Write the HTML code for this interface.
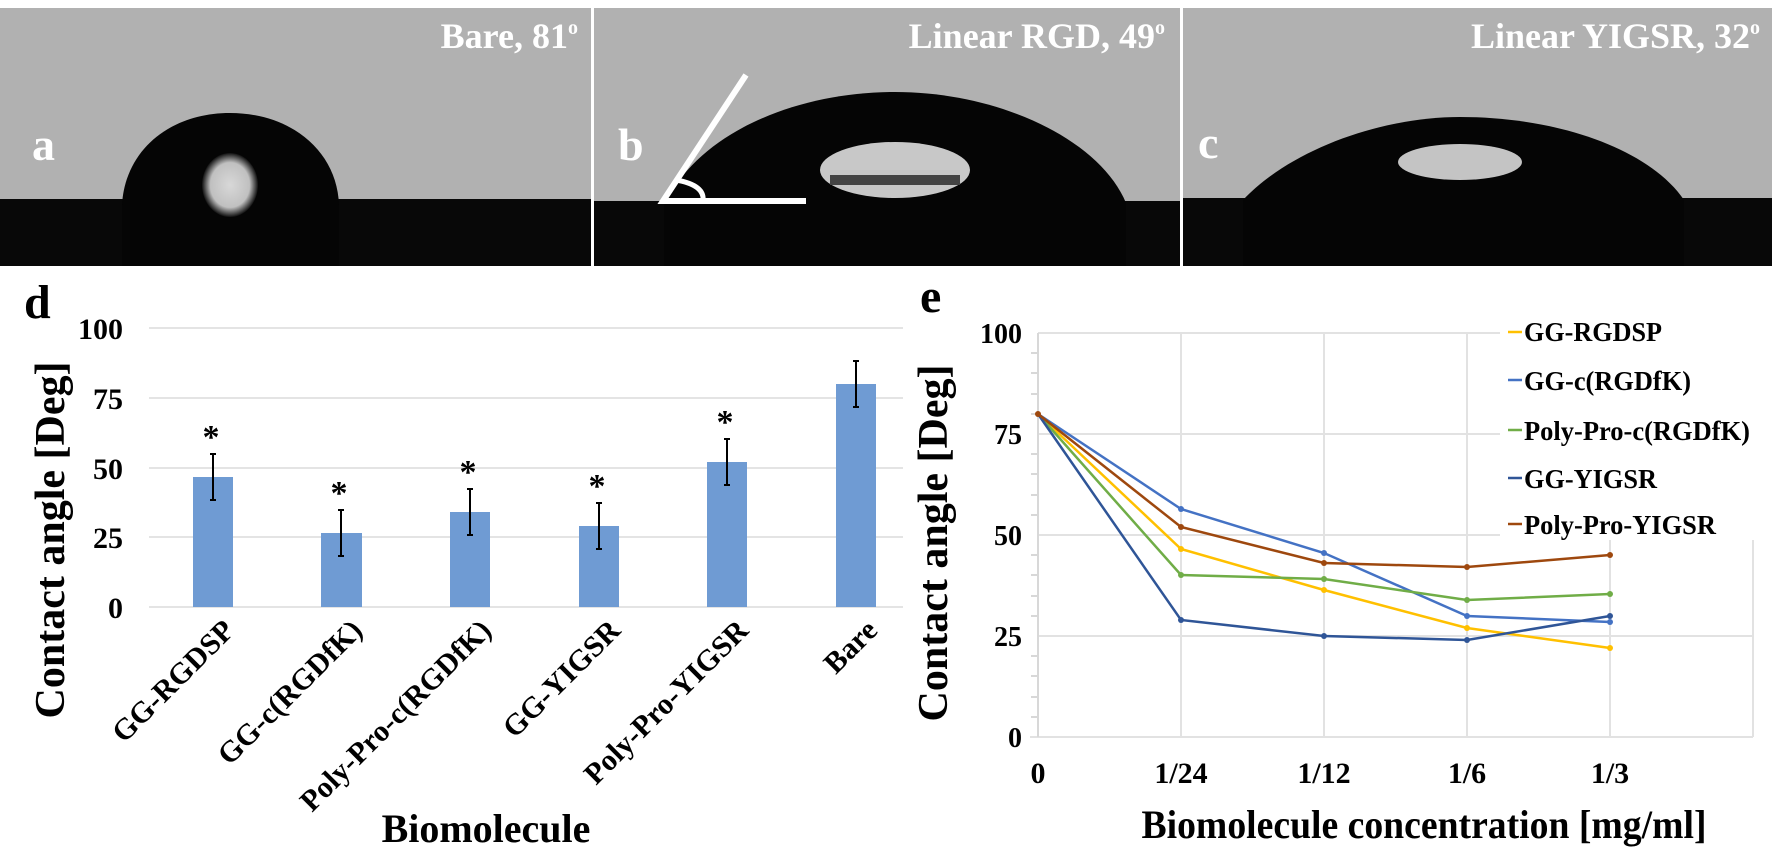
<!DOCTYPE html>
<html><head><meta charset="utf-8"><style>
html,body{margin:0;padding:0;background:#fff;width:1772px;height:850px;overflow:hidden}
svg{display:block}
text{font-family:"Liberation Serif",serif;font-weight:bold}
</style></head><body>
<svg width="1772" height="850" viewBox="0 0 1772 850" xmlns="http://www.w3.org/2000/svg">
<defs>
<radialGradient id="spot" cx="50%" cy="50%" r="50%"><stop offset="0" stop-color="#d8d8d8"/><stop offset="0.7" stop-color="#c0c0c0"/><stop offset="1" stop-color="#111"/></radialGradient>
</defs>
<rect x="0" y="0" width="1772" height="266" fill="#fff"/>
<g>
<rect x="0" y="8" width="591" height="258" fill="#b1b1b1"/>
<rect x="0" y="199" width="591" height="67" fill="#080808"/>
<path d="M122,266 L122,205 C125,150 170,113 230,113 C290,113 337,150 339,205 L339,266 Z" fill="#050505"/>
<ellipse cx="230" cy="185" rx="28" ry="32" fill="url(#spot)"/>
<text x="32" y="160" fill="#fff" font-size="46">a</text>
<text x="578" y="48" fill="#fff" font-size="36" text-anchor="end">Bare, 81<tspan font-size="20" dy="-14">o</tspan></text>
</g>
<g>
<rect x="594" y="8" width="586" height="258" fill="#b1b1b1"/>
<rect x="594" y="201" width="586" height="65" fill="#080808"/>
<path d="M664,266 L664,205 C700,130 800,92 895,92 C1000,92 1100,140 1126,203 L1126,266 Z" fill="#050505"/>
<ellipse cx="895" cy="170" rx="75" ry="28" fill="#c8c8c8"/>
<rect x="830" y="175" width="130" height="10" fill="#444"/>
<path d="M746,75 L663,201 L806,201" fill="none" stroke="#fff" stroke-width="6"/>
<path d="M676,180 Q705,185 703,201" fill="none" stroke="#fff" stroke-width="5"/>
<text x="618" y="160" fill="#fff" font-size="46">b</text>
<text x="1165" y="48" fill="#fff" font-size="36" text-anchor="end">Linear RGD, 49<tspan font-size="20" dy="-14">o</tspan></text>
</g>
<g>
<rect x="1183" y="8" width="589" height="258" fill="#b1b1b1"/>
<rect x="1183" y="198" width="589" height="68" fill="#080808"/>
<path d="M1243,266 L1243,200 C1290,150 1380,117 1460,117 C1560,117 1650,150 1684,200 L1684,266 Z" fill="#050505"/>
<ellipse cx="1460" cy="162" rx="62" ry="18" fill="#c4c4c4"/>
<text x="1198" y="158" fill="#fff" font-size="46">c</text>
<text x="1760" y="48" fill="#fff" font-size="36" text-anchor="end">Linear YIGSR, 32<tspan font-size="20" dy="-14">o</tspan></text>
</g>

<text x="24" y="318" font-size="48">d</text>
<g stroke="#e4e4e4" stroke-width="2">
<line x1="149" y1="328" x2="903" y2="328"/><line x1="149" y1="398" x2="903" y2="398"/>
<line x1="149" y1="468" x2="903" y2="468"/><line x1="149" y1="537" x2="903" y2="537"/>
<line x1="149" y1="607" x2="903" y2="607"/>
</g>
<g font-size="30" text-anchor="end">
<text x="123" y="339">100</text><text x="123" y="409">75</text><text x="123" y="479">50</text><text x="123" y="548">25</text><text x="123" y="618">0</text>
</g>
<g fill="#6f9bd3">
<rect x="193" y="477" width="40" height="130"/><rect x="321" y="533" width="41" height="74"/>
<rect x="450" y="512" width="40" height="95"/><rect x="579" y="526" width="40" height="81"/>
<rect x="707" y="462" width="40" height="145"/><rect x="836" y="384" width="40" height="223"/>
</g>
<g stroke="#000" stroke-width="2">
<line x1="213" y1="454" x2="213" y2="500"/><line x1="210" y1="454" x2="216" y2="454"/><line x1="210" y1="500" x2="216" y2="500"/>
<line x1="341" y1="510" x2="341" y2="556"/><line x1="338" y1="510" x2="344" y2="510"/><line x1="338" y1="556" x2="344" y2="556"/>
<line x1="470" y1="489" x2="470" y2="535"/><line x1="467" y1="489" x2="473" y2="489"/><line x1="467" y1="535" x2="473" y2="535"/>
<line x1="599" y1="503" x2="599" y2="549"/><line x1="596" y1="503" x2="602" y2="503"/><line x1="596" y1="549" x2="602" y2="549"/>
<line x1="727" y1="439" x2="727" y2="485"/><line x1="724" y1="439" x2="730" y2="439"/><line x1="724" y1="485" x2="730" y2="485"/>
<line x1="856" y1="361" x2="856" y2="407"/><line x1="853" y1="361" x2="859" y2="361"/><line x1="853" y1="407" x2="859" y2="407"/>
</g>
<g font-size="34" text-anchor="middle" font-weight="normal" style="font-family:'Liberation Sans',sans-serif">
<text x="211" y="448">*</text><text x="339" y="504">*</text><text x="468" y="483">*</text><text x="597" y="497">*</text><text x="725" y="433">*</text>
</g>
<g font-size="30" text-anchor="end">
<text transform="translate(236,632) rotate(-45)">GG-RGDSP</text>
<text transform="translate(364,632) rotate(-45)">GG-c(RGDfK)</text>
<text transform="translate(493,632) rotate(-45)">Poly-Pro-c(RGDfK)</text>
<text transform="translate(622,632) rotate(-45)">GG-YIGSR</text>
<text transform="translate(750,632) rotate(-45)">Poly-Pro-YIGSR</text>
<text transform="translate(879,632) rotate(-45)">Bare</text>
</g>
<text x="486" y="842" font-size="40" text-anchor="middle">Biomolecule</text>
<text transform="translate(64,540) rotate(-90)" font-size="42" text-anchor="middle">Contact angle [Deg]</text>

<text x="920" y="312" font-size="48">e</text>
<g stroke="#e2e2e2" stroke-width="2">
<line x1="1038" y1="333" x2="1500" y2="333"/><line x1="1038" y1="434" x2="1500" y2="434"/>
<line x1="1038" y1="535" x2="1500" y2="535"/><line x1="1038" y1="636" x2="1753" y2="636"/>
<line x1="1030" y1="737" x2="1753" y2="737"/>
<line x1="1181" y1="333" x2="1181" y2="737"/><line x1="1324" y1="333" x2="1324" y2="737"/>
<line x1="1467" y1="333" x2="1467" y2="737"/><line x1="1610" y1="540" x2="1610" y2="737"/>
<line x1="1753" y1="540" x2="1753" y2="737"/>
<line x1="1038" y1="333" x2="1038" y2="737" stroke="#d8d8d8"/>
</g>
<g stroke="#d8d8d8" stroke-width="2">
<line x1="1031" y1="353" x2="1038" y2="353"/><line x1="1031" y1="373" x2="1038" y2="373"/><line x1="1031" y1="394" x2="1038" y2="394"/><line x1="1031" y1="414" x2="1038" y2="414"/>
<line x1="1031" y1="454" x2="1038" y2="454"/><line x1="1031" y1="474" x2="1038" y2="474"/><line x1="1031" y1="495" x2="1038" y2="495"/><line x1="1031" y1="515" x2="1038" y2="515"/>
<line x1="1031" y1="555" x2="1038" y2="555"/><line x1="1031" y1="575" x2="1038" y2="575"/><line x1="1031" y1="596" x2="1038" y2="596"/><line x1="1031" y1="616" x2="1038" y2="616"/>
<line x1="1031" y1="656" x2="1038" y2="656"/><line x1="1031" y1="676" x2="1038" y2="676"/><line x1="1031" y1="697" x2="1038" y2="697"/><line x1="1031" y1="717" x2="1038" y2="717"/>
</g>
<g font-size="28" text-anchor="end">
<text x="1022" y="343">100</text><text x="1022" y="444">75</text><text x="1022" y="545">50</text><text x="1022" y="646">25</text><text x="1022" y="747">0</text>
</g>
<g font-size="30" text-anchor="middle">
<text x="1038" y="783">0</text><text x="1181" y="783">1/24</text><text x="1324" y="783">1/12</text><text x="1467" y="783">1/6</text><text x="1610" y="783">1/3</text>
</g>
<text x="1424" y="838" font-size="40" text-anchor="middle" textLength="565" lengthAdjust="spacingAndGlyphs">Biomolecule concentration [mg/ml]</text>
<text transform="translate(947,543) rotate(-90)" font-size="42" text-anchor="middle">Contact angle [Deg]</text>
<g fill="none" stroke-width="2.5">
<polyline stroke="#ffc000" points="1038,414 1181,549 1324,590 1467,628 1610,648"/>
<polyline stroke="#4472c4" points="1038,414 1181,509 1324,553 1467,616 1610,622"/>
<polyline stroke="#70ad47" points="1038,414 1181,575 1324,579 1467,600 1610,594"/>
<polyline stroke="#2f5597" points="1038,414 1181,620 1324,636 1467,640 1610,616"/>
<polyline stroke="#9e480e" points="1038,414 1181,527 1324,563 1467,567 1610,555"/>
</g>
<g>
<g fill="#ffc000"><circle cx="1181" cy="549" r="3"/><circle cx="1324" cy="590" r="3"/><circle cx="1467" cy="628" r="3"/><circle cx="1610" cy="648" r="3"/></g>
<g fill="#4472c4"><circle cx="1181" cy="509" r="3"/><circle cx="1324" cy="553" r="3"/><circle cx="1467" cy="616" r="3"/><circle cx="1610" cy="622" r="3"/></g>
<g fill="#70ad47"><circle cx="1181" cy="575" r="3"/><circle cx="1324" cy="579" r="3"/><circle cx="1467" cy="600" r="3"/><circle cx="1610" cy="594" r="3"/></g>
<g fill="#2f5597"><circle cx="1181" cy="620" r="3"/><circle cx="1324" cy="636" r="3"/><circle cx="1467" cy="640" r="3"/><circle cx="1610" cy="616" r="3"/></g>
<g fill="#9e480e"><circle cx="1038" cy="414" r="3"/><circle cx="1181" cy="527" r="3"/><circle cx="1324" cy="563" r="3"/><circle cx="1467" cy="567" r="3"/><circle cx="1610" cy="555" r="3"/></g>
</g>
<g stroke-width="2.5">
<line x1="1508" y1="332" x2="1522" y2="332" stroke="#ffc000"/>
<line x1="1508" y1="380" x2="1522" y2="380" stroke="#4472c4"/>
<line x1="1508" y1="430" x2="1522" y2="430" stroke="#70ad47"/>
<line x1="1508" y1="478" x2="1522" y2="478" stroke="#2f5597"/>
<line x1="1508" y1="524" x2="1522" y2="524" stroke="#9e480e"/>
</g>
<g font-size="27" lengthAdjust="spacingAndGlyphs">
<text x="1524" y="341" textLength="138" lengthAdjust="spacingAndGlyphs">GG-RGDSP</text>
<text x="1524" y="390" textLength="167" lengthAdjust="spacingAndGlyphs">GG-c(RGDfK)</text>
<text x="1524" y="440" textLength="226" lengthAdjust="spacingAndGlyphs">Poly-Pro-c(RGDfK)</text>
<text x="1524" y="488" textLength="133" lengthAdjust="spacingAndGlyphs">GG-YIGSR</text>
<text x="1524" y="534" textLength="192" lengthAdjust="spacingAndGlyphs">Poly-Pro-YIGSR</text>
</g>
</svg>
</body></html>
